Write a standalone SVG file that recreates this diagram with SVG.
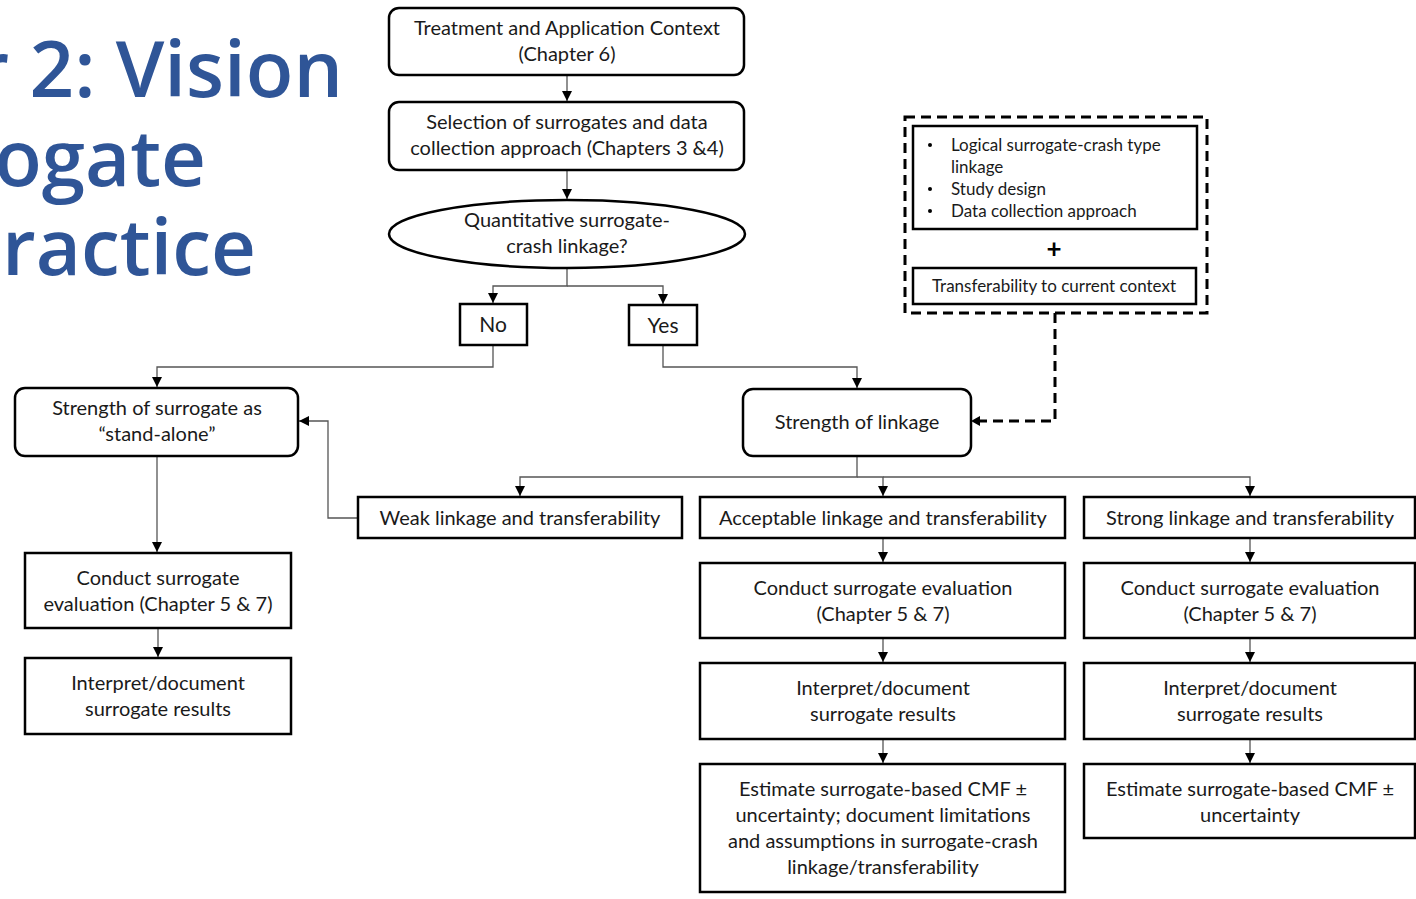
<svg xmlns="http://www.w3.org/2000/svg" width="1416" height="899" viewBox="0 0 1416 899">
<style>
.t{font-family:Lato,"Open Sans","Liberation Sans",sans-serif;font-size:20px;fill:#1a1a1a;text-anchor:middle}
.s{font-family:Lato,"Open Sans","Liberation Sans",sans-serif;font-size:17px;fill:#1a1a1a}
.title{font-family:"Open Sans","Noto Sans",sans-serif;font-weight:600;font-size:78px;fill:#2F5597;text-anchor:end}
.box{fill:#fff;stroke:#000;stroke-width:2.5}
.c{fill:none;stroke:#555;stroke-width:1.3}
.d{fill:none;stroke:#000;stroke-width:3;stroke-dasharray:10 6}
</style>
<defs>
<marker id="ah" viewBox="0 0 10 10" refX="10" refY="5" markerWidth="10" markerHeight="10" markerUnits="userSpaceOnUse" orient="auto">
<path d="M0,0 L10,5 L0,10 z" fill="#000"/>
</marker>
</defs>
<g id="title">
<text class="title" x="343" y="97">r 2: Vision</text>
<text class="title" x="206" y="186">ogate</text>
<text class="title" x="256" y="275">Practice</text>
</g>
<g id="connectors">
<path class="c" d="M567,75 V101" marker-end="url(#ah)"/>
<path class="c" d="M567,170 V199" marker-end="url(#ah)"/>
<path class="c" d="M567,268 V286 H493 V303" marker-end="url(#ah)"/>
<path class="c" d="M567,286 H663 V304" marker-end="url(#ah)"/>
<path class="c" d="M493,345 V367 H157 V387" marker-end="url(#ah)"/>
<path class="c" d="M663,345 V367 H857 V388" marker-end="url(#ah)"/>
<path class="d" d="M1055,313 V421 H980"/>
<path d="M971,421 L980,416 L980,426 z" fill="#000"/>
<path class="c" d="M857,456 V477 H520 V496" marker-end="url(#ah)"/>
<path class="c" d="M857,477 H883 V496" marker-end="url(#ah)"/>
<path class="c" d="M883,477 H1250 V496" marker-end="url(#ah)"/>
<path class="c" d="M358,518 H328 V421 H299" marker-end="url(#ah)"/>
<path class="c" d="M157,456 V552" marker-end="url(#ah)"/>
<path class="c" d="M158,628 V657" marker-end="url(#ah)"/>
<path class="c" d="M883,538 V562" marker-end="url(#ah)"/>
<path class="c" d="M883,638 V662" marker-end="url(#ah)"/>
<path class="c" d="M883,739 V763" marker-end="url(#ah)"/>
<path class="c" d="M1250,538 V562" marker-end="url(#ah)"/>
<path class="c" d="M1250,638 V662" marker-end="url(#ah)"/>
<path class="c" d="M1250,739 V763" marker-end="url(#ah)"/>
</g>
<g id="n1"><rect class="box" x="389" y="8" width="355" height="67" rx="10"/>
<text class="t" x="567" y="35">Treatment and Application Context</text><text class="t" x="567" y="61">(Chapter 6)</text></g>
<g id="n2"><rect class="box" x="389" y="102" width="355" height="68" rx="10"/>
<text class="t" x="567" y="129">Selection of surrogates and data</text><text class="t" x="567" y="155">collection approach (Chapters 3 &amp;4)</text></g>
<g id="n3"><ellipse class="box" cx="567" cy="234" rx="178" ry="34"/>
<text class="t" x="567" y="227">Quantitative surrogate-</text><text class="t" x="567" y="253">crash linkage?</text></g>
<g id="no"><rect class="box" x="460" y="304" width="67" height="41"/>
<text class="t" x="493" y="332" style="font-size:21px">No</text></g>
<g id="yes"><rect class="box" x="629" y="305" width="68" height="40"/>
<text class="t" x="663" y="333" style="font-size:21px">Yes</text></g>
<g id="factors">
<rect class="d" x="905" y="117" width="302" height="196" fill="none"/>
<rect class="box" x="913" y="126" width="284" height="103"/>
<circle cx="930" cy="145" r="2" fill="#000"/><circle cx="930" cy="189" r="2" fill="#000"/><circle cx="930" cy="211" r="2" fill="#000"/>
<text class="s" x="951" y="151">Logical surrogate-crash type</text>
<text class="s" x="951" y="173">linkage</text>
<text class="s" x="951" y="195">Study design</text>
<text class="s" x="951" y="217">Data collection approach</text>
<text x="1054" y="258" style="font-family:Lato,'Liberation Sans',sans-serif;font-size:26px;font-weight:bold;text-anchor:middle;fill:#000">+</text>
<rect class="box" x="913" y="268" width="283" height="36"/>
<text class="s" x="1054" y="292" style="text-anchor:middle">Transferability to current context</text>
</g>
<g id="n4"><rect class="box" x="15" y="388" width="283" height="68" rx="10"/>
<text class="t" x="157" y="415">Strength of surrogate as</text><text class="t" x="157" y="441">“stand-alone”</text></g>
<g id="n5"><rect class="box" x="743" y="389" width="228" height="67" rx="10"/>
<text class="t" x="857" y="429">Strength of linkage</text></g>
<g id="weak"><rect class="box" x="358" y="497" width="324" height="41"/>
<text class="t" x="520" y="525">Weak linkage and transferability</text></g>
<g id="acc"><rect class="box" x="700" y="497" width="365" height="41"/>
<text class="t" x="883" y="525">Acceptable linkage and transferability</text></g>
<g id="strong"><rect class="box" x="1084" y="497" width="331" height="41"/>
<text class="t" x="1250" y="525">Strong linkage and transferability</text></g>
<g id="lc"><rect class="box" x="25" y="553" width="266" height="75"/>
<text class="t" x="158" y="585">Conduct surrogate</text><text class="t" x="158" y="611">evaluation (Chapter 5 &amp; 7)</text></g>
<g id="li"><rect class="box" x="25" y="658" width="266" height="76"/>
<text class="t" x="158" y="690">Interpret/document</text><text class="t" x="158" y="716">surrogate results</text></g>
<g id="ac"><rect class="box" x="700" y="563" width="365" height="75"/>
<text class="t" x="883" y="595">Conduct surrogate evaluation</text><text class="t" x="883" y="621">(Chapter 5 &amp; 7)</text></g>
<g id="ai"><rect class="box" x="700" y="663" width="365" height="76"/>
<text class="t" x="883" y="695">Interpret/document</text><text class="t" x="883" y="721">surrogate results</text></g>
<g id="ae"><rect class="box" x="700" y="764" width="365" height="128"/>
<text class="t" x="883" y="796">Estimate surrogate-based CMF ±</text><text class="t" x="883" y="822">uncertainty; document limitations</text><text class="t" x="883" y="848">and assumptions in surrogate-crash</text><text class="t" x="883" y="874">linkage/transferability</text></g>
<g id="sc"><rect class="box" x="1084" y="563" width="331" height="75"/>
<text class="t" x="1250" y="595">Conduct surrogate evaluation</text><text class="t" x="1250" y="621">(Chapter 5 &amp; 7)</text></g>
<g id="si"><rect class="box" x="1084" y="663" width="331" height="76"/>
<text class="t" x="1250" y="695">Interpret/document</text><text class="t" x="1250" y="721">surrogate results</text></g>
<g id="se"><rect class="box" x="1084" y="764" width="331" height="74"/>
<text class="t" x="1250" y="796">Estimate surrogate-based CMF ±</text><text class="t" x="1250" y="822">uncertainty</text></g>
</svg>
